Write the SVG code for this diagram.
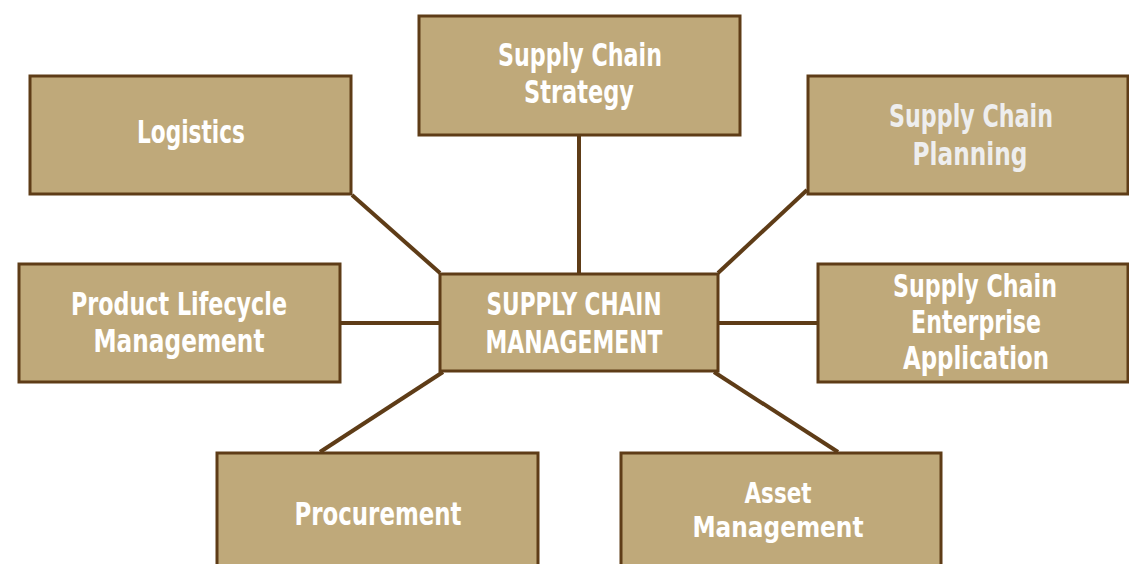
<svg xmlns="http://www.w3.org/2000/svg" width="1129" height="564" viewBox="0 0 1129 564">
<style>
.box{fill:#bfa97a;stroke:#5e3c17;stroke-width:3}
.t{font-family:"DejaVu Sans Condensed","Liberation Sans",sans-serif;font-weight:bold;font-size:32px;fill:#ffffff;text-anchor:middle}
.s{font-size:29px}
.g{fill:#eeeeee}
.c{stroke:#5e3c17;stroke-width:4;fill:none}
</style>
<rect width="1129" height="564" fill="#ffffff"/>
<g id="connectors">
<line class="c" x1="579" y1="136" x2="579" y2="273"/>
<line class="c" x1="352" y1="195" x2="440" y2="273"/>
<line class="c" x1="807" y1="190" x2="718" y2="273"/>
<line class="c" x1="341" y1="323" x2="439" y2="323"/>
<line class="c" x1="719" y1="323" x2="817" y2="323"/>
<line class="c" x1="443" y1="372" x2="320" y2="452"/>
<line class="c" x1="714" y1="372" x2="838" y2="452"/>
</g>
<g id="strategy">
<rect class="box" x="419" y="16" width="321" height="119"/>
<text class="t" x="580" y="66" textLength="164" lengthAdjust="spacingAndGlyphs">Supply Chain</text>
<text class="t" x="579" y="103" textLength="110" lengthAdjust="spacingAndGlyphs">Strategy</text>
</g>
<g id="logistics">
<rect class="box" x="30" y="76" width="321" height="118"/>
<text class="t" x="191" y="143" textLength="108" lengthAdjust="spacingAndGlyphs">Logistics</text>
</g>
<g id="planning">
<rect class="box" x="808" y="76" width="320" height="118"/>
<text class="t g" x="971" y="127" textLength="164" lengthAdjust="spacingAndGlyphs">Supply Chain</text>
<text class="t g" x="970" y="165" textLength="115" lengthAdjust="spacingAndGlyphs">Planning</text>
</g>
<g id="scm">
<rect class="box" x="440" y="274" width="278" height="97"/>
<text class="t" x="574" y="315" textLength="175" lengthAdjust="spacingAndGlyphs">SUPPLY CHAIN</text>
<text class="t" x="574" y="353" textLength="177" lengthAdjust="spacingAndGlyphs">MANAGEMENT</text>
</g>
<g id="plm">
<rect class="box" x="19" y="264" width="321" height="118"/>
<text class="t" x="179" y="315" textLength="216" lengthAdjust="spacingAndGlyphs">Product Lifecycle</text>
<text class="t" x="179" y="352" textLength="171" lengthAdjust="spacingAndGlyphs">Management</text>
</g>
<g id="scea">
<rect class="box" x="818" y="264" width="310" height="118"/>
<text class="t" x="975" y="297" textLength="164" lengthAdjust="spacingAndGlyphs">Supply Chain</text>
<text class="t" x="976" y="333" textLength="130" lengthAdjust="spacingAndGlyphs">Enterprise</text>
<text class="t" x="976" y="369" textLength="146" lengthAdjust="spacingAndGlyphs">Application</text>
</g>
<g id="procurement">
<rect class="box" x="217" y="453" width="321" height="113"/>
<text class="t" x="378" y="525" textLength="167" lengthAdjust="spacingAndGlyphs">Procurement</text>
</g>
<g id="asset">
<rect class="box" x="621" y="453" width="320" height="113"/>
<text class="t s" x="778" y="503" textLength="67" lengthAdjust="spacingAndGlyphs">Asset</text>
<text class="t s" x="778" y="537" textLength="171" lengthAdjust="spacingAndGlyphs">Management</text>
</g>
</svg>
